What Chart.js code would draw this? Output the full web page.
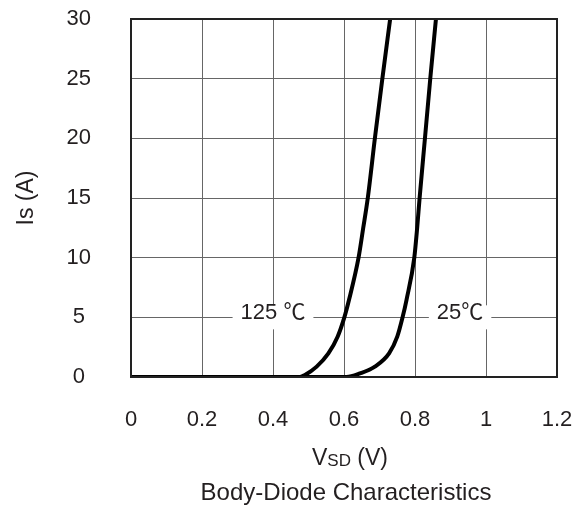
<!DOCTYPE html>
<html>
<head>
<meta charset="utf-8">
<script src="https://cdn.jsdelivr.net/npm/chart.js@4/dist/chart.umd.min.js"></script>
<style>
  body { margin: 0; background: #fff; }
</style>
</head>
<body>
<canvas id="myChart" width="585" height="506"></canvas>
<script>
'use strict';

// body diode forward curves
const vsd125 = [0, 0.476, 0.490, 0.523, 0.556, 0.582, 0.601, 0.614, 0.641, 0.654, 0.667, 0.687, 0.708, 0.730];
const is125 = [0, 0, 0.17, 0.87, 1.98, 3.38, 5, 6.45, 10, 12.46, 15, 20, 25, 30];

const vsd25 = [0, 0.607, 0.645, 0.687, 0.727, 0.750, 0.765, 0.776, 0.798, 0.806, 0.813, 0.828, 0.843, 0.859];
const is25 = [0, 0, 0.3, 0.87, 1.98, 3.38, 5, 6.45, 10, 12.46, 15, 20, 25, 30];

const xTicks = [0, 0.2, 0.4, 0.6, 0.8, 1, 1.2];
const yTicks = [0, 5, 10, 15, 20, 25, 30];

const curveLabels = ['125 ℃', '25℃'];
const labelX = [0.400, 0.927];
const labelY = [5, 5];

const textColor = '#231f20';
const fontFamily = '"Liberation Sans", Arial, sans-serif';
const labelFont = '"Liberation Sans", "Noto Sans CJK SC", sans-serif';

const toPoints = (xs, ys) => xs.map((x, i) => ({ x: x, y: ys[i] }));

// white boxed labels sitting on the gridline + x title with subscript + caption
const annotations = {
    id: 'annotations',
    afterDatasetsDraw(chart) {
        const { ctx, scales } = chart;
        ctx.save();
        ctx.font = '22px ' + labelFont;
        ctx.textBaseline = 'middle';
        ctx.textAlign = 'center';
        curveLabels.forEach((txt, i) => {
            const px = scales.x.getPixelForValue(labelX[i]);
            const py = scales.y.getPixelForValue(labelY[i]);
            const w = ctx.measureText(txt).width + 16;
            ctx.fillStyle = '#fff';
            ctx.fillRect(px - w / 2, py - 12, w, 24);
            ctx.fillStyle = textColor;
            ctx.fillText(txt, px, py - 4);
        });
        ctx.restore();
    },
    afterDraw(chart) {
        const { ctx, chartArea } = chart;
        const cx = (chartArea.left + chartArea.right) / 2 + 6;
        ctx.save();
        ctx.fillStyle = textColor;
        ctx.textBaseline = 'middle';
        ctx.textAlign = 'left';

        const big = '23px ' + fontFamily;
        const small = '17px ' + fontFamily;
        ctx.font = big;
        const wV = ctx.measureText('V').width;
        const wRest = ctx.measureText(' (V)').width;
        ctx.font = small;
        const wSD = ctx.measureText('SD').width;
        let x = cx - (wV + wSD + wRest) / 2;
        const y = chartArea.bottom + 82;
        ctx.font = big;
        ctx.fillText('V', x, y);
        x += wV;
        ctx.font = small;
        ctx.fillText('SD', x, y + 2);
        x += wSD;
        ctx.font = big;
        ctx.fillText(' (V)', x, y);

        ctx.textAlign = 'center';
        ctx.font = '24px ' + fontFamily;
        ctx.fillText('Body-Diode Characteristics', cx - 4, chartArea.bottom + 116);
        ctx.restore();
    },
};

const data = {
    datasets: [
        {
            label: '125',
            data: toPoints(vsd125, is125),
            borderColor: '#000',
            borderWidth: 4,
            pointRadius: 0,
            cubicInterpolationMode: 'monotone',
        },
        {
            label: '25',
            data: toPoints(vsd25, is25),
            borderColor: '#000',
            borderWidth: 4,
            pointRadius: 0,
            cubicInterpolationMode: 'monotone',
        },
    ],
};

const myChart = new Chart(document.getElementById('myChart'), {
    type: 'line',
    data: data,
    options: {
        responsive: false,
        animation: false,
        layout: {
            padding: { top: 19, right: 28, left: 0, bottom: 0 },
        },
        plugins: {
            legend: { display: false },
            tooltip: { enabled: false },
        },
        scales: {
            x: {
                type: 'linear',
                min: 0,
                max: 1.2,
                afterBuildTicks: (scale) => {
                    scale.ticks = xTicks.map((v) => ({ value: v }));
                },
                afterFit: (scale) => {
                    scale.height = 129;
                    scale.paddingLeft = 0;
                    scale.paddingRight = 0;
                },
                grid: {
                    color: '#666',
                    lineWidth: 1,
                    drawTicks: false,
                },
                border: { color: '#222', width: 2 },
                ticks: {
                    padding: 30,
                    color: textColor,
                    font: { family: fontFamily, size: 22 },
                    callback: (v) => String(v),
                },
            },
            y: {
                min: 0,
                max: 30,
                afterBuildTicks: (scale) => {
                    scale.ticks = yTicks.map((v) => ({ value: v }));
                },
                afterFit: (scale) => {
                    scale.width = 131;
                    scale.paddingTop = 0;
                    scale.paddingBottom = 0;
                },
                grid: {
                    color: '#666',
                    lineWidth: 1,
                    drawTicks: false,
                },
                border: { color: '#222', width: 2 },
                ticks: {
                    padding: 40,
                    crossAlign: 'center',
                    color: textColor,
                    font: { family: fontFamily, size: 22 },
                },
                title: {
                    display: true,
                    text: 'Is (A)',
                    color: textColor,
                    font: { family: fontFamily, size: 23 },
                    padding: { top: 13, bottom: 0 },
                },
            },
        },
    },
    plugins: [
        annotations,
        {
            // closed frame on top and right like the datasheet
            id: 'frame',
            afterDatasetsDraw(chart) {
                const { ctx, chartArea: a } = chart;
                ctx.save();
                ctx.strokeStyle = '#222';
                ctx.lineWidth = 2;
                ctx.strokeRect(a.left, a.top, a.right - a.left, a.bottom - a.top);
                ctx.restore();
            },
        },
    ],
});
</script>
</body>
</html>
